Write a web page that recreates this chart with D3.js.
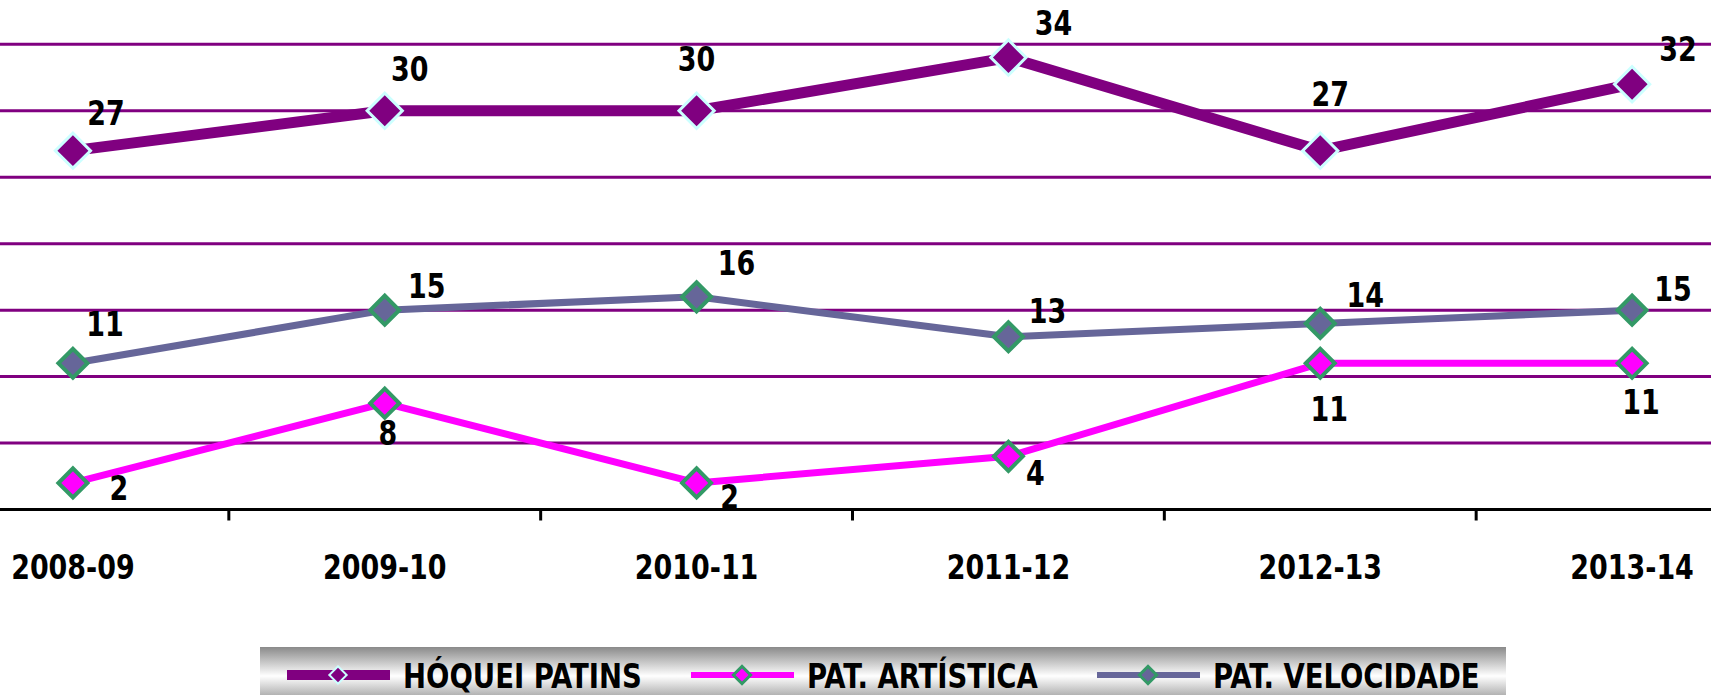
<!DOCTYPE html>
<html>
<head>
<meta charset="utf-8">
<script src="https://cdn.jsdelivr.net/npm/d3@7"></script>
<style>
	body{margin:0;background:#fff;overflow:hidden;}
	svg{display:block;}
	.lbl{font-family:"Liberation Sans Narrow","Arial Narrow","DejaVu Sans Condensed",sans-serif;font-weight:bold;fill:#000;font-size:34px;}
</style>
</head>
<body>
<svg id="chart" width="1711" height="695"></svg>
<script>
var seasons = ["2008-09","2009-10","2010-11","2011-12","2012-13","2013-14"];
var hoquei = [27,30,30,34,27,32];
var artistica = [2,8,2,4,11,11];
var velocidade = [11,15,16,13,14,15];
var yTicks = [0,5,10,15,20,25,30,35];
var legendNames = ["HÓQUEI PATINS","PAT. ARTÍSTICA","PAT. VELOCIDADE"];

// label nudges (px) relative to each point, as placed in the original
var hoqueiLbl = [[33,-26],[25,-30],[0,-40],[45,-23],[10,-45],[46,-23]];
var artisticaLbl = [[46,17],[3,42],[33,26],[27,29],[9,58],[9,51]];
var velocidadeLbl = [[32,-27],[42,-12],[40,-22],[39,-14],[45,-16],[41,-9]];

var W = 1711, H = 695;
var svg = d3.select("#chart");

var x = d3.scaleBand().domain(seasons).range([-83,1788]);
var cx = function(d){ return x(d)+x.bandwidth()/2; };
var y = d3.scaleLinear().domain([0,35]).range([509.5,44.3]);

// squeeze the fallback font so it looks condensed like the original
function narrowText(sel, px, py, sx){
	sel.attr("x",0).attr("y",0)
		.attr("transform",function(d,i){return "translate("+px(d,i)+","+py(d,i)+") scale("+sx+",1)";});
}

// gridlines
svg.append("g").selectAll("line").data(yTicks.filter(function(t){return t>0;})).enter()
	.append("line")
	.attr("x1",0).attr("x2",W)
	.attr("y1",function(d){return y(d);}).attr("y2",function(d){return y(d);})
	.attr("stroke","#800080").attr("stroke-width",3);

// x axis
var xAxis = svg.append("g").attr("transform","translate(0,"+y(0)+")");
xAxis.append("line").attr("x1",0).attr("x2",W).attr("stroke","#000").attr("stroke-width",3);
xAxis.selectAll(".tk").data(seasons.slice(1)).enter().append("line")
	.attr("x1",function(d){return x(d);}).attr("x2",function(d){return x(d);})
	.attr("y1",0).attr("y2",11).attr("stroke","#000").attr("stroke-width",3);
xAxis.selectAll("text").data(seasons).enter().append("text")
	.attr("class","lbl")
	.attr("text-anchor","middle")
	.text(function(d){return d;})
	.call(narrowText, function(d){return cx(d);}, function(){return 69;}, 0.88);

var diamond = function(size){ return d3.symbol(d3.symbolSquare, size)(); };

var series = [
	{name:legendNames[0], values:hoquei, lbl:hoqueiLbl, color:"#800080", width:11, mfill:"#800080", mstroke:"#CCFFFF", msw:3, msize:620},
	{name:legendNames[1], values:artistica, lbl:artisticaLbl, color:"#FF00FF", width:7, mfill:"#FF00FF", mstroke:"#339966", msw:4, msize:420},
	{name:legendNames[2], values:velocidade, lbl:velocidadeLbl, color:"#666699", width:7, mfill:"#666699", mstroke:"#339966", msw:4, msize:420}
];

var line = d3.line().x(function(d,i){return cx(seasons[i]);}).y(function(d){return y(d);});

series.forEach(function(s){
	var g = svg.append("g");
	g.append("path").attr("d",line(s.values)).attr("fill","none")
		.attr("stroke",s.color).attr("stroke-width",s.width).attr("stroke-linejoin","round");
	g.selectAll(".m").data(s.values).enter().append("path")
		.attr("d",diamond(s.msize))
		.attr("transform",function(d,i){return "translate("+cx(seasons[i])+","+y(d)+") rotate(45)";})
		.attr("fill",s.mfill).attr("stroke",s.mstroke).attr("stroke-width",s.msw);
	g.selectAll("text").data(s.values).enter().append("text")
		.attr("class","lbl")
		.attr("text-anchor","middle")
		.text(function(d){return d;})
		.call(narrowText, function(d,i){return cx(seasons[i])+s.lbl[i][0];}, function(d,i){return y(d)+s.lbl[i][1];}, 0.88);
});

// legend
var defs = svg.append("defs");
var grad = defs.append("linearGradient").attr("id","silver").attr("x1",0).attr("y1",0).attr("x2",0).attr("y2",1);
grad.append("stop").attr("offset","0%").attr("stop-color","#8a8a8a");
grad.append("stop").attr("offset","50%").attr("stop-color","#ffffff");
grad.append("stop").attr("offset","100%").attr("stop-color","#8a8a8a");

var leg = svg.append("g");
leg.append("rect").attr("x",260).attr("y",647).attr("width",1246).attr("height",58).attr("fill","url(#silver)");
var legX = d3.scaleOrdinal().domain(legendNames).range([287,691,1097]);
series.forEach(function(s){
	var lx = legX(s.name);
	leg.append("line").attr("x1",lx).attr("x2",lx+103).attr("y1",675).attr("y2",675)
		.attr("stroke",s.color).attr("stroke-width",s.width-1);
	leg.append("path").attr("d",diamond(150))
		.attr("transform","translate("+(lx+51)+",675) rotate(45)")
		.attr("fill",s.mfill).attr("stroke",s.mstroke).attr("stroke-width",s.msw-1);
	leg.append("text").attr("class","lbl")
		.text(s.name)
		.call(narrowText, function(){return lx+116;}, function(){return 688;}, 0.9);
});
</script>
</body>
</html>
